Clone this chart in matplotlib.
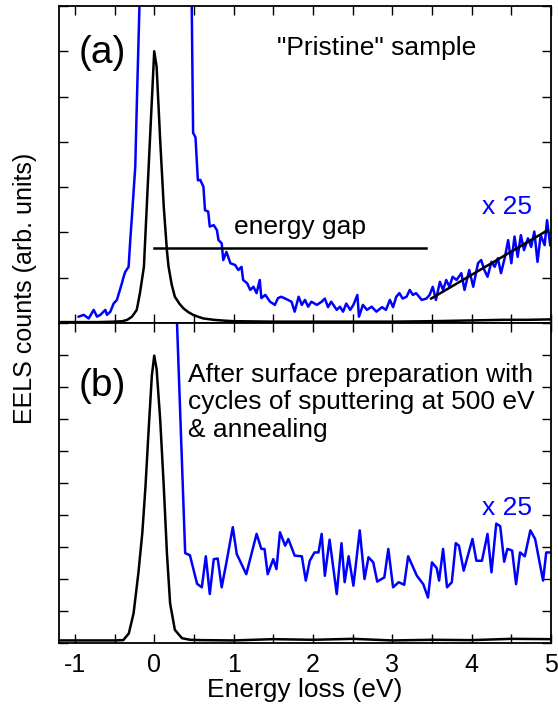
import matplotlib
matplotlib.use("Agg")
import matplotlib.pyplot as plt
from matplotlib.ticker import MultipleLocator

plt.rcParams['font.family'] = ['Liberation Sans', 'DejaVu Sans']

# ---------------- Panel (a): "Pristine" sample ----------------
a_black_x = [-1.2, -1.0, -0.7, -0.5, -0.4, -0.34, -0.28, -0.22, -0.18, -0.13, -0.09, -0.05, 0.0,
             0.03, 0.075, 0.12, 0.16, 0.18, 0.22, 0.26, 0.32, 0.37, 0.43, 0.49, 0.55, 0.62, 0.75,
             0.9, 1.0, 1.5, 2.0, 2.5, 3.0, 3.5, 3.8, 4.1, 4.4, 4.7, 5.0]
a_black_y = [0.02, 0.02, 0.02, 0.03, 0.04, 0.07, 0.14, 0.29, 0.66, 1.24, 2.72, 4.19, 6.0,
             5.66, 4.04, 2.57, 1.6, 1.25, 0.85, 0.58, 0.42, 0.32, 0.24, 0.18, 0.14, 0.10, 0.07,
             0.05, 0.04, 0.03, 0.03, 0.03, 0.03, 0.04, 0.05, 0.06, 0.07, 0.07, 0.08]

a_blue_x = [-0.952, -0.889, -0.826, -0.763, -0.721, -0.679, -0.616, -0.595, -0.553, -0.512, -0.470,
            -0.407, -0.386, -0.365, -0.323, -0.302, -0.281, -0.239, -0.218, -0.18,
            0.47, 0.49, 0.52, 0.55, 0.58, 0.62, 0.64, 0.68, 0.70, 0.75, 0.79, 0.81, 0.85, 0.87, 0.91,
            0.96, 1.02, 1.06, 1.10, 1.12, 1.17, 1.21, 1.25, 1.29, 1.33, 1.35, 1.40, 1.46, 1.52, 1.56,
            1.60, 1.65, 1.73, 1.77, 1.82, 1.86, 1.90, 1.94, 1.98, 2.05, 2.11, 2.15, 2.19, 2.23, 2.30,
            2.34, 2.38, 2.42, 2.47, 2.51, 2.56, 2.58, 2.63, 2.68, 2.74, 2.80, 2.87, 2.92, 2.97, 3.01,
            3.05, 3.09, 3.13, 3.18, 3.22, 3.26, 3.30, 3.37, 3.43, 3.47, 3.51, 3.55, 3.60, 3.64, 3.68,
            3.72, 3.76, 3.81, 3.87, 3.91, 3.97, 4.02, 4.08, 4.12, 4.16, 4.20, 4.25, 4.29, 4.33, 4.37,
            4.42, 4.46, 4.50, 4.54, 4.58, 4.62, 4.66, 4.71, 4.75, 4.79, 4.83, 4.87, 4.92, 4.95, 4.99]
a_blue_y = [0.14, 0.18, 0.10, 0.29, 0.14, 0.18, 0.29, 0.18, 0.25, 0.43, 0.51,
            0.88, 1.02, 1.13, 1.24, 1.83, 2.35, 3.45, 4.92, 7.4,
            7.4, 4.2, 4.1, 3.15, 3.16, 3.01, 2.49, 2.46, 2.13, 2.16, 2.05, 1.83, 1.76, 1.39, 1.57,
            1.32, 1.28, 1.17, 1.24, 0.95, 0.88, 0.73, 0.80, 0.66, 0.95, 0.55, 0.62, 0.47, 0.40, 0.55,
            0.58, 0.54, 0.47, 0.25, 0.58, 0.40, 0.51, 0.36, 0.47, 0.40, 0.47, 0.54, 0.35, 0.47, 0.29,
            0.36, 0.25, 0.43, 0.29, 0.40, 0.62, 0.14, 0.40, 0.29, 0.36, 0.25, 0.35, 0.29, 0.51, 0.35,
            0.58, 0.66, 0.54, 0.58, 0.73, 0.62, 0.66, 0.51, 0.54, 0.62, 0.80, 0.51, 0.91, 0.73, 0.95,
            0.80, 1.02, 0.95, 1.10, 0.73, 1.17, 0.80, 1.32, 1.39, 1.17, 1.02, 1.35, 1.24, 1.43, 1.10,
            1.46, 1.83, 1.32, 1.91, 1.46, 1.94, 1.61, 1.87, 1.68, 2.02, 1.35, 1.94, 1.72, 2.27, 1.72]

fit_x = [3.49, 4.96]
fit_y = [0.54, 2.05]

gap_x = [0.0, 3.43]
gap_y = [1.65, 1.65]

# ---------------- Panel (b): after surface preparation ----------------
b_black_x = [-1.2, -0.8, -0.5, -0.39, -0.32, -0.26, -0.20, -0.15, -0.11, -0.07, -0.03, 0.0,
             0.03, 0.075, 0.12, 0.16, 0.20, 0.26, 0.35, 0.45, 0.58, 1.0, 1.5, 2.0, 2.5, 3.0, 3.5,
             4.0, 4.5, 5.0]
b_black_y = [0.08, 0.08, 0.08, 0.09, 0.30, 0.93, 2.18, 3.44, 4.90, 6.68, 8.35, 8.98,
             8.56, 6.99, 4.90, 2.81, 1.24, 0.41, 0.15, 0.10, 0.09, 0.08, 0.12, 0.10, 0.13, 0.08,
             0.10, 0.09, 0.13, 0.12]

b_blue_x = [0.28, 0.39, 0.45, 0.54, 0.60, 0.65, 0.70, 0.75, 0.80, 0.85, 0.91, 0.99, 1.04, 1.16,
            1.29, 1.35, 1.39, 1.43, 1.50, 1.54, 1.585, 1.65, 1.69, 1.77, 1.86, 1.91, 1.96, 2.02,
            2.07, 2.11, 2.15, 2.21, 2.30, 2.36, 2.40, 2.45, 2.51, 2.59, 2.65, 2.70, 2.76, 2.81,
            2.90, 2.95, 3.01, 3.08, 3.15, 3.20, 3.31, 3.39, 3.45, 3.50, 3.56, 3.59, 3.64, 3.69,
            3.75, 3.80, 3.84, 3.90, 4.01, 4.06, 4.13, 4.20, 4.25, 4.31, 4.36, 4.41, 4.45, 4.51,
            4.56, 4.61, 4.67, 4.74, 4.80, 4.90, 4.94, 4.99]
b_blue_y = [10.5, 2.81, 2.74, 1.85, 1.74, 2.71, 1.53, 2.62, 2.64, 1.74, 2.52, 3.62, 2.78, 2.15,
            3.41, 2.94, 2.94, 2.15, 2.62, 2.31, 3.46, 3.04, 3.25, 2.73, 2.71, 1.95, 2.57, 2.83,
            2.83, 3.41, 2.10, 3.23, 1.53, 3.12, 1.90, 2.71, 1.79, 3.52, 2.00, 2.68, 2.52, 1.92,
            2.05, 2.94, 1.74, 1.90, 1.82, 2.71, 2.10, 1.84, 1.42, 2.52, 2.34, 1.95, 2.94, 1.74,
            1.90, 3.12, 3.04, 2.26, 3.25, 2.57, 2.57, 3.41, 2.21, 3.73, 3.65, 2.54, 2.94, 2.89,
            1.84, 2.83, 2.71, 3.52, 3.25, 1.95, 2.83, 2.83]

x_ticks = [-1, 0, 1, 2, 3, 4, 5]

BLUE = '#0000ff'
FS = 19

fig = plt.figure(figsize=(5.58, 7.11), dpi=100)
ax_a = fig.add_axes([59/558, 1-323/711, (551-59)/558, (323-6)/711])
ax_b = fig.add_axes([59/558, 1-643/711, (551-59)/558, (643-323)/711])

for ax, ymax in ((ax_a, 7), (ax_b, 10)):
    ax.set_xlim(-1.2, 5.0)
    ax.set_ylim(0, ymax)
    ax.xaxis.set_major_locator(MultipleLocator(1))
    ax.xaxis.set_minor_locator(MultipleLocator(0.5))
    ax.yaxis.set_major_locator(MultipleLocator(1))
    ax.tick_params(which='both', direction='in', top=True, right=True, length=6.5, width=1.0)
    ax.set_yticklabels([])
    for s in ax.spines.values():
        s.set_linewidth(1.3)

ax_a.set_xticklabels([])
ax_b.set_xticks(x_ticks)
ax_b.set_xticklabels([str(t) for t in x_ticks])
ax_b.tick_params(axis='x', labelsize=18, pad=7)

# panel a
ax_a.plot(a_blue_x, a_blue_y, color=BLUE, lw=1.8, clip_on=True)
ax_a.plot(a_black_x, a_black_y, color='black', lw=1.8)
ax_a.plot(fit_x, fit_y, color='black', lw=1.8)
ax_a.plot(gap_x, gap_y, color='black', lw=1.8)
ax_a.text(-0.65, 5.96, '(a)', fontsize=28, ha='center', va='center')
ax_a.text(2.8, 6.07, '"Pristine" sample', fontsize=FS, ha='center', va='center')
ax_a.text(1.84, 2.12, 'energy gap', fontsize=FS, ha='center', va='center')
ax_a.text(4.44, 2.56, 'x 25', fontsize=FS, ha='center', va='center', color=BLUE)

# panel b
ax_b.plot(b_blue_x, b_blue_y, color=BLUE, lw=1.8)
ax_b.plot(b_black_x, b_black_y, color='black', lw=1.8)
ax_b.text(-0.65, 8.03, '(b)', fontsize=28, ha='center', va='center')
ax_b.text(0.43, 7.52, 'After surface preparation with\ncycles of sputtering at 500 eV\n& annealing',
          fontsize=FS, ha='left', va='center', linespacing=1.2)
ax_b.text(4.45, 4.23, 'x 25', fontsize=FS, ha='center', va='center', color=BLUE)

ax_b.set_xlabel('Energy loss (eV)', fontsize=FS, labelpad=1)
fig.text(25/558, 1-288/711, 'EELS counts (arb. units)', fontsize=18, rotation=90,
         ha='center', va='center')

fig.savefig('out.png', dpi=100)
